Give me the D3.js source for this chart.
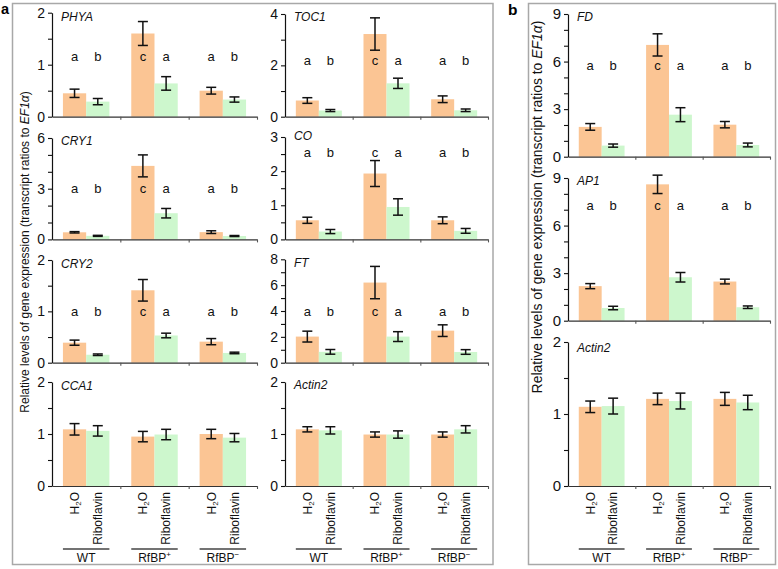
<!DOCTYPE html>
<html><head><meta charset="utf-8">
<script src="https://cdn.jsdelivr.net/npm/d3@7"></script>
<style>body{margin:0;background:#fff}svg{display:block;font-family:"Liberation Sans",Arial,sans-serif}</style>
</head><body><svg id="c" width="778" height="569"></svg>
<script>
// ---------- data ----------
const groups = ["WT", "RfBP+", "RfBP−"];
const treatments = ["H2O", "Riboflavin"];
const letters = ["a", "b", "c", "a", "a", "b"];

const PHYA_mean = [0.45, 0.29, 1.60, 0.64, 0.50, 0.33];
const PHYA_err  = [0.08, 0.06, 0.23, 0.13, 0.065, 0.05];
const PHYA_ticks = [0, 1, 2];

const TOC1_mean = [0.63, 0.24, 3.22, 1.30, 0.68, 0.25];
const TOC1_err  = [0.11, 0.04, 0.63, 0.20, 0.13, 0.05];
const TOC1_ticks = [0, 2, 4];

const CRY1_mean = [0.42, 0.21, 4.35, 1.55, 0.43, 0.20];
const CRY1_err  = [0.04, 0.03, 0.65, 0.28, 0.08, 0.03];
const CRY1_ticks = [0, 3, 6];

const CO_mean = [0.56, 0.23, 1.93, 0.95, 0.56, 0.25];
const CO_err  = [0.09, 0.06, 0.38, 0.24, 0.10, 0.07];
const CO_ticks = [0, 1, 2, 3];

const CRY2_mean = [0.39, 0.155, 1.41, 0.53, 0.41, 0.19];
const CRY2_err  = [0.05, 0.015, 0.21, 0.045, 0.06, 0.015];
const CRY2_ticks = [0, 1, 2];

const FT_mean = [2.02, 0.84, 6.20, 2.02, 2.48, 0.83];
const FT_err  = [0.42, 0.18, 1.25, 0.38, 0.45, 0.18];
const FT_ticks = [0, 2, 4, 6, 8];

const CCA1_mean = [1.09, 1.06, 0.95, 0.99, 1.00, 0.93];
const CCA1_err  = [0.11, 0.10, 0.10, 0.10, 0.09, 0.08];
const CCA1_ticks = [0, 1, 2];

const ACT2a_mean = [1.09, 1.07, 0.99, 0.99, 0.99, 1.09];
const ACT2a_err  = [0.05, 0.07, 0.05, 0.07, 0.05, 0.07];
const ACT2a_ticks = [0, 1, 2];

const FD_mean = [1.88, 0.70, 7.05, 2.65, 2.02, 0.74];
const FD_err  = [0.21, 0.10, 0.70, 0.44, 0.20, 0.12];
const FD_ticks = [0, 3, 6, 9];

const AP1_mean = [2.18, 0.80, 8.60, 2.74, 2.47, 0.85];
const AP1_err  = [0.16, 0.11, 0.58, 0.30, 0.15, 0.08];
const AP1_ticks = [0, 3, 6, 9];

const ACT2b_mean = [1.10, 1.11, 1.21, 1.18, 1.21, 1.16];
const ACT2b_err  = [0.08, 0.11, 0.08, 0.11, 0.09, 0.10];
const ACT2b_ticks = [0, 1, 2];

// letter heights (data units) for significance letters
const letterLevel = {PHYA: 1.15, TOC1: 2.2, CRY1: 3.0, CO: 2.55, CRY2: 1.0, FT: 4.0, FD: 5.74, AP1: 7.3};

// ---------- layout ----------
const panels = [
  {name: "PHYA",   mean: PHYA_mean,  err: PHYA_err,  ticks: PHYA_ticks,  minor: 0.5, letters: true, x: 52,  w: 205, top: 12.7,  bot: 116.7, fs: 14, nd: 8,   xl: false},
  {name: "TOC1",   mean: TOC1_mean,  err: TOC1_err,  ticks: TOC1_ticks,  minor: 1,   letters: true, x: 285, w: 203, top: 14,    bot: 116.7, fs: 14, nd: 7,   xl: false},
  {name: "CRY1",   mean: CRY1_mean,  err: CRY1_err,  ticks: CRY1_ticks,  minor: 1,   letters: true, x: 52,  w: 205, top: 138,   bot: 239.4, fs: 14, nd: 6.5, xl: false},
  {name: "CO",     mean: CO_mean,    err: CO_err,    ticks: CO_ticks,    minor: 0.5, letters: true, x: 285, w: 203, top: 137,   bot: 239.4, fs: 14, nd: 3,   xl: false},
  {name: "CRY2",   mean: CRY2_mean,  err: CRY2_err,  ticks: CRY2_ticks,  minor: 0.5, letters: true, x: 52,  w: 205, top: 260,   bot: 362.7, fs: 14, nd: 8,   xl: false},
  {name: "FT",     mean: FT_mean,    err: FT_err,    ticks: FT_ticks,    minor: 1,   letters: true, x: 285, w: 203, top: 259.3, bot: 362.7, fs: 14, nd: 8,   xl: false},
  {name: "CCA1",   mean: CCA1_mean,  err: CCA1_err,  ticks: CCA1_ticks,  minor: 0.5, letters: false, x: 52, w: 205, top: 382,  bot: 486,   fs: 14, nd: 8,   xl: true},
  {name: "Actin2", mean: ACT2a_mean, err: ACT2a_err, ticks: ACT2a_ticks, minor: 0.5, letters: false, x: 285, w: 203, top: 382, bot: 486,   fs: 14, nd: 7,   xl: true},
  {name: "FD",     mean: FD_mean,    err: FD_err,    ticks: FD_ticks,    minor: 1,   letters: true, x: 568, w: 202, top: 14,    bot: 156.7, fs: 15, nd: 7,   xl: false},
  {name: "AP1",    mean: AP1_mean,   err: AP1_err,   ticks: AP1_ticks,   minor: 1,   letters: true, x: 568, w: 202, top: 178,   bot: 320.7, fs: 15, nd: 7,   xl: false},
  {name: "Actin2", mean: ACT2b_mean, err: ACT2b_err, ticks: ACT2b_ticks, minor: 0.5, letters: false, x: 568, w: 202, top: 342, bot: 486,   fs: 15, nd: 10,  xl: true}
];
const ORANGE = "#fbc594", GREEN = "#cdf7cd";

const svg = d3.select("#c");

// frames
svg.append("rect").attr("x", 12.5).attr("y", 3.5).attr("width", 480.5).attr("height", 561)
  .attr("fill", "none").attr("stroke", "#a8a8a8").attr("stroke-width", 1.5);
svg.append("rect").attr("x", 528.5).attr("y", 3.5).attr("width", 247).attr("height", 561)
  .attr("fill", "none").attr("stroke", "#a8a8a8").attr("stroke-width", 1.5);

svg.append("text").attr("x", 1).attr("y", 14).attr("font-size", 14.5).attr("font-weight", "bold").text("a");
svg.append("text").attr("x", 508).attr("y", 15).attr("font-size", 15.5).attr("font-weight", "bold").text("b");

panels.forEach(p => {
  const g = svg.append("g");
  const maxV = d3.max(p.ticks);
  const y = d3.scaleLinear().domain([0, maxV]).range([p.bot, p.top]);
  const x0 = d3.scaleBand().domain(groups).range([p.x, p.x + p.w]);
  const bw = x0.bandwidth();
  const barW = bw * 0.34;
  const x1 = d3.scaleBand().domain(treatments).range([bw / 2 - barW, bw / 2 + barW]);

  const rows = [];
  groups.forEach((gr, gi) => treatments.forEach((t, ti) => {
    const i = gi * 2 + ti;
    rows.push({gr, t, m: p.mean[i], e: p.err[i], l: letters[i]});
  }));

  g.selectAll("rect.bar").data(rows).join("rect").attr("class", "bar")
    .attr("x", d => x0(d.gr) + x1(d.t))
    .attr("width", x1.bandwidth())
    .attr("y", d => y(d.m))
    .attr("height", d => y(0) - y(d.m))
    .attr("fill", d => d.t === "H2O" ? ORANGE : GREEN);

  const cx = d => x0(d.gr) + x1(d.t) + x1.bandwidth() / 2;
  const eg = g.append("g").attr("stroke", "#111").attr("stroke-width", 1.5).attr("fill", "none");
  eg.selectAll("line.v").data(rows).join("line").attr("class", "v")
    .attr("x1", cx).attr("x2", cx).attr("y1", d => y(d.m - d.e)).attr("y2", d => y(d.m + d.e));
  eg.selectAll("line.t").data(rows).join("line").attr("class", "t")
    .attr("x1", d => cx(d) - 5).attr("x2", d => cx(d) + 5).attr("y1", d => y(d.m + d.e)).attr("y2", d => y(d.m + d.e));
  eg.selectAll("line.b").data(rows).join("line").attr("class", "b")
    .attr("x1", d => cx(d) - 5).attr("x2", d => cx(d) + 5).attr("y1", d => y(d.m - d.e)).attr("y2", d => y(d.m - d.e));

  // y axis
  const all = d3.range(0, maxV + 1e-9, p.minor).map(v => +v.toFixed(3));
  const ya = d3.axisLeft(y).tickValues(all).tickSize(4).tickSizeOuter(0)
    .tickFormat(d => p.ticks.includes(d) ? d : "");
  const yg = g.append("g").attr("transform", `translate(${p.x},0)`).call(ya);
  yg.attr("font-size", p.fs).attr("font-family", null);
  yg.select(".domain").attr("stroke", "#111").attr("stroke-width", 1.2);
  yg.selectAll(".tick line").attr("stroke", "#111").attr("stroke-width", 1.1);
  yg.selectAll(".tick text").attr("font-size", p.fs).attr("fill", "#111").attr("x", -7);

  // x baseline with group boundary ticks
  const xl = d3.scaleLinear().domain([0, groups.length]).range([p.x, p.x + p.w]);
  const xa = d3.axisBottom(xl).tickValues([1, 2, 3]).tickSize(3).tickSizeOuter(0).tickFormat("");
  const xg = g.append("g").attr("transform", `translate(0,${y(0)})`).call(xa);
  xg.select(".domain").attr("stroke", "#333").attr("stroke-width", 1.2);
  xg.selectAll(".tick line").attr("stroke", "#555").attr("stroke-width", 1.1);

  // gene name
  g.append("text").attr("x", p.x + 9).attr("y", p.top + p.nd).attr("font-size", 12)
    .attr("font-style", "italic").attr("fill", "#111").text(p.name);

  // letters
  if (p.letters) {
    g.selectAll("text.let").data(rows).join("text").attr("class", "let")
      .attr("x", cx).attr("y", y(letterLevel[p.name])).attr("dy", "0.35em")
      .attr("text-anchor", "middle").attr("font-size", 13).attr("fill", "#111").text(d => d.l);
  }

  // x labels
  if (p.xl) {
    rows.forEach(d => {
      const tg = g.append("g").attr("transform", `translate(${cx(d)},492) rotate(-90)`);
      const t = tg.append("text").attr("text-anchor", "end").attr("dy", "0.36em")
        .attr("font-size", 12).attr("fill", "#111");
      if (d.t === "H2O") {
        t.append("tspan").text("H");
        t.append("tspan").attr("font-size", 8).attr("dy", 2).text("2");
        t.append("tspan").attr("dy", -2).text("O");
      } else t.text(d.t);
    });
    groups.forEach(gr => {
      const a = x0(gr) + x1(treatments[0]);
      const b = x0(gr) + x1(treatments[1]) + x1.bandwidth();
      g.append("line").attr("x1", a).attr("x2", b).attr("y1", 549).attr("y2", 549)
        .attr("stroke", "#444").attr("stroke-width", 1.5);
      const t = g.append("text").attr("x", (a + b) / 2).attr("y", 562).attr("text-anchor", "middle")
        .attr("font-size", 12).attr("fill", "#111");
      if (gr === "WT") t.text("WT");
      else {
        t.append("tspan").text("RfBP");
        t.append("tspan").attr("font-size", 8).attr("dy", -5).text(gr.slice(-1));
      }
    });
  }
});

// y axis titles
function ytitle(cx, cy, len) {
  const t = svg.append("text").attr("transform", `translate(${cx},${cy}) rotate(-90)`)
    .attr("text-anchor", "middle").attr("dy", "0.35em").attr("font-size", 12).attr("fill", "#111");
  t.append("tspan").text("Relative levels of gene expression (transcript ratios to ");
  t.append("tspan").attr("font-style", "italic").text("EF1α");
  t.append("tspan").text(")");
  const L = t.node().getComputedTextLength();
  t.attr("font-size", 12 * len / L);
}
ytitle(25, 252, 322);
ytitle(537, 207, 373);
</script></body></html>
